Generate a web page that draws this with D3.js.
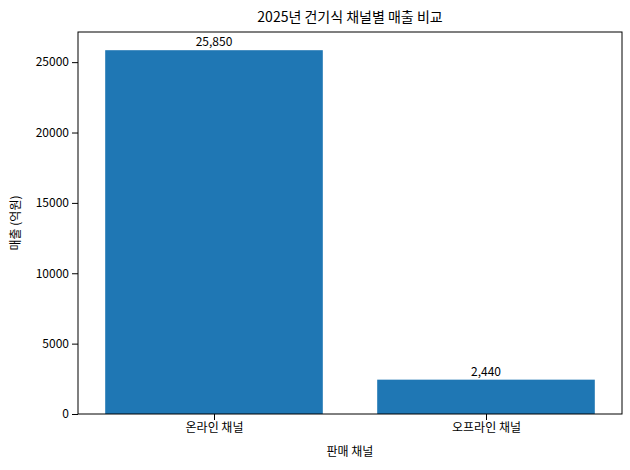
<!DOCTYPE html>
<html><head><meta charset="utf-8">
<script src="https://cdn.jsdelivr.net/npm/d3@7"></script>
<style>body{margin:0;background:#fff}text{font-family:"Noto Sans CJK KR","Noto Sans",sans-serif}</style>
</head><body><svg id="c" width="630" height="470"></svg>
<script>
const categories = ["온라인 채널", "오프라인 채널"];
const values = [25850, 2440];
const valueLabels = ["25,850", "2,440"];
const yTicks = [0, 5000, 10000, 15000, 20000, 25000];

const svg = d3.select("#c");
const L = 78, R = 622, T = 32, B = 414;
const x = d3.scaleLinear().domain([-0.5, 1.5]).range([L, R]);
const y = d3.scaleLinear().domain([0, 25850 * 1.05]).range([B, T]);
const bw = x(0.4) - x(0);

svg.selectAll("rect.bar").data(values).join("rect")
  .attr("x", (d, i) => x(i) - bw).attr("width", 2 * bw)
  .attr("y", d => y(d)).attr("height", d => B - y(d)).attr("fill", "#1f77b4");

svg.selectAll("text.v").data(values).join("text")
  .attr("x", (d, i) => x(i)).attr("y", d => y(d) - 4)
  .attr("text-anchor", "middle").attr("font-size", 12).text((d, i) => valueLabels[i]);

const ya = svg.append("g").attr("transform", `translate(${L},0)`)
  .call(d3.axisLeft(y).tickValues(yTicks).tickFormat(d3.format("d")).tickSizeOuter(0));
const xa = svg.append("g").attr("transform", `translate(0,${B})`)
  .call(d3.axisBottom(x).tickValues([0, 1]).tickFormat(i => categories[i]).tickSizeOuter(0));
[ya, xa].forEach(a => { a.selectAll("text").attr("font-size", 12).attr("fill", "#000"); a.select(".domain").remove(); });

svg.append("rect").attr("x", L).attr("y", T).attr("width", R - L).attr("height", B - T)
  .attr("fill", "none").attr("stroke", "#000").attr("stroke-width", 1);

svg.append("text").attr("x", (L + R) / 2).attr("y", 22).attr("text-anchor", "middle")
  .attr("font-size", 14).text("2025년 건기식 채널별 매출 비교");
svg.append("text").attr("x", (L + R) / 2).attr("y", 456).attr("text-anchor", "middle")
  .attr("font-size", 12).text("판매 채널");
svg.append("text").attr("transform", `translate(20,${(T + B) / 2}) rotate(-90)`)
  .attr("text-anchor", "middle").attr("font-size", 12).text("매출 (억원)");
</script></body></html>
